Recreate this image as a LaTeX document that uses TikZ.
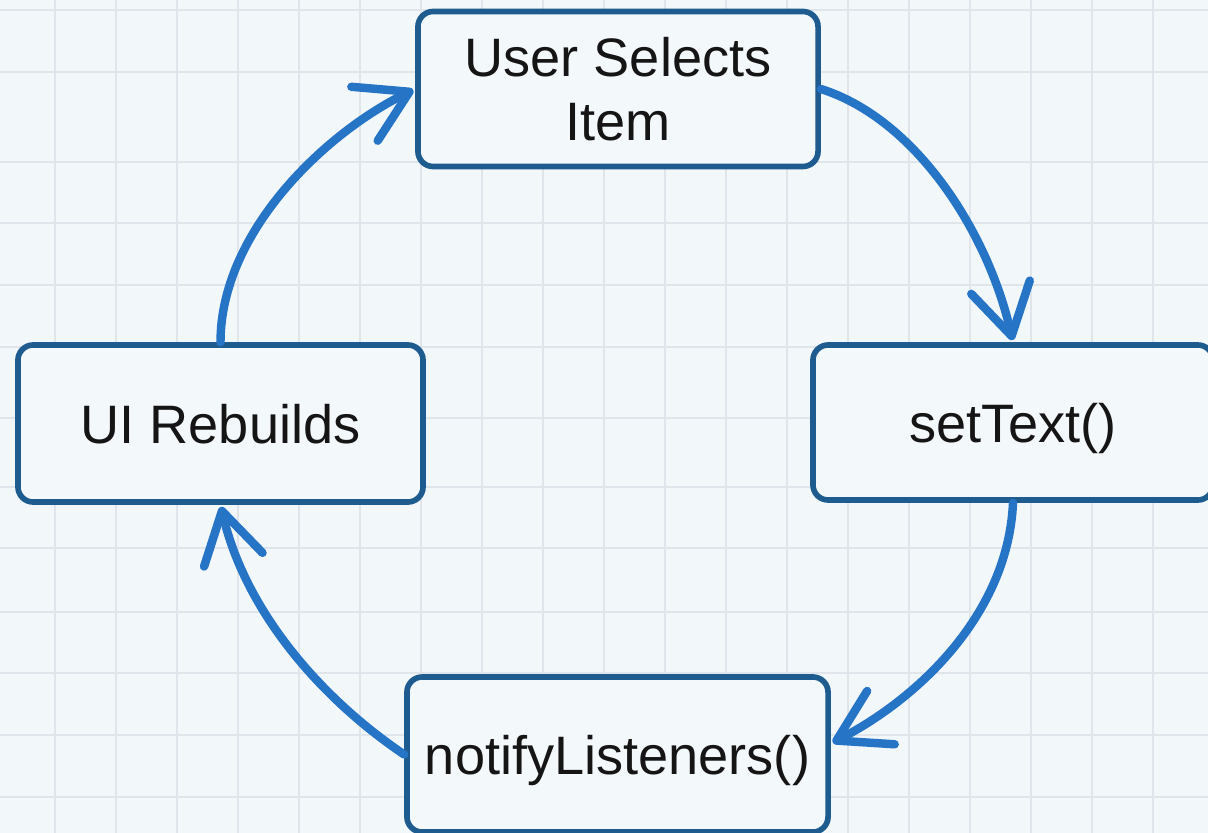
\documentclass[tikz,border=0pt]{standalone}
\usepackage{fontspec}
\setmainfont{Liberation Sans}
\usetikzlibrary{arrows.meta}

\definecolor{paper}{HTML}{F2F7FA}
\definecolor{gridline}{HTML}{DFE5EA}
\definecolor{boxedge}{HTML}{1E5B8F}
\definecolor{boxfill}{HTML}{F3F8FB}
\definecolor{flowblue}{HTML}{2574C6}
\definecolor{ink}{HTML}{151515}

\begin{document}
\begin{tikzpicture}[x=0.025cm, y=-0.025cm,
  stage/.style={draw=boxedge, line width=4pt, fill=boxfill,
    rounded corners=0.38cm, minimum width=10cm, minimum height=3.875cm,
    inner sep=0pt, align=center, text=ink,
    font=\fontsize{38.5}{46}\selectfont},
  oneline/.style={text height=28pt, text depth=0pt},
  flow/.style={draw=flowblue, line width=6pt, line cap=round,
    -{Straight Barb[length=1.25cm, width=1.5cm, round]}, shorten >=1.5pt},
]
  % paper and grid
  \useasboundingbox (0,0) rectangle (1208,833);
  \fill[paper] (0,0) rectangle (1208,833);
  \foreach \gx in {0,...,18}
    \draw[gridline, line width=1.2pt] ({54.7+61*\gx},0) -- ({54.7+61*\gx},833);
  \foreach \gy in {10,72,162,223,285,347,418,487,548,612,673,735,797}
    \draw[gridline, line width=1.2pt] (0,\gy) -- (1208,\gy);

  % the four stages of the update cycle
  \node[stage] (select) at (618,89) {User Selects\\Item};
  \node[stage, oneline, minimum width=10.125cm, minimum height=3.925cm]
    (rebuild) at (220.5,423.5) {UI Rebuilds};
  \node[stage, oneline] (settext) at (1013,422.5) {setText()};
  \node[stage, oneline, minimum width=10.525cm] (notify) at (617.5,754.5)
    {notifyListeners()};

  % cycle arrows
  \draw[flow] (select.east) .. controls +(95,30) and +(-25,-110) .. (settext.north);
  \draw[flow] (settext.south) .. controls +(-5,110) and +(89,-46) .. ([yshift=0.275cm]notify.east);
  \draw[flow] (notify.west) .. controls +(-83,-56) and +(25,107) .. (rebuild.south);
  \draw[flow] (rebuild.north) .. controls +(0,-110) and +(-90,44) .. (select.west);
\end{tikzpicture}
\end{document}
